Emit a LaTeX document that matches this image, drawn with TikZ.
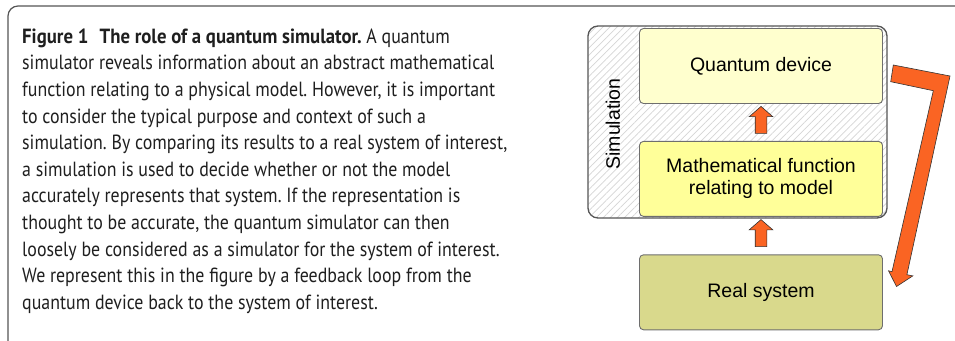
\documentclass[tikz,border=0pt]{standalone}
\usepackage{fontspec}
\setmainfont[FakeStretch=0.872, BoldFeatures={FakeStretch=0.915}]{PT Sans}
\newfontfamily\diagfont{Liberation Sans}
\usetikzlibrary{positioning, calc, shapes.arrows, patterns.meta}
\definecolor{qsOrange}{RGB}{250,100,35}
\definecolor{qsPale}{RGB}{255,255,206}
\definecolor{qsYellow}{RGB}{255,255,153}
\definecolor{qsOlive}{RGB}{217,217,140}
\definecolor{qsEdge}{RGB}{110,110,110}
\definecolor{qsFrame}{RGB}{85,85,85}
\frenchspacing

\begin{document}
\begin{tikzpicture}[
    x=1pt, y=-1pt,
    box/.style={draw=qsEdge, line width=0.9pt, rounded corners=4pt,
                minimum width=243pt, minimum height=75pt, inner sep=0pt,
                align=center, font=\diagfont\fontsize{19.5}{22}\selectfont},
    uparrow/.style={single arrow, draw=black!80, line width=0.6pt,
                    fill=qsOrange, rotate=90, minimum height=27pt,
                    inner xsep=0pt, inner ysep=5.5pt,
                    single arrow head extend=6pt, single arrow tip angle=98}
]
\useasboundingbox (0,0) rectangle (955,340);
\clip (0,0) rectangle (955,340);

% caption frame
\draw[qsFrame, line width=1.2pt, rounded corners=10pt] (970,6) -- (8,6) -- (8,370);

% caption
\node[anchor=north west, inner sep=0pt, align=left, text=black!88,
      font=\fontsize{20.5}{26.6}\selectfont] (caption) at (22,28.5) {%
  \textbf{Figure 1\hspace{0.55em}The role of a quantum simulator.} A quantum\\
  simulator reveals information about an abstract mathematical\\
  function relating to a physical model. However, it is important\\
  to consider the typical purpose and context of such a\\
  simulation. By comparing its results to a real system of interest,\\
  a simulation is used to decide whether or not the model\\
  accurately represents that system. If the representation is\\
  thought to be accurate, the quantum simulator can then\\
  loosely be considered as a simulator for the system of interest.\\
  We represent this in the figure by a feedback loop from the\\
  quantum device back to the system of interest.};

% simulation block
\draw[qsFrame, line width=1.3pt, rounded corners=10pt, preaction={fill=white},
      pattern={Lines[angle=45, distance=5pt, line width=0.7pt]},
      pattern color=black!16]
  (588,26) rectangle (887,218);
\node[rotate=90, font=\diagfont\fontsize{19.5}{22}\selectfont] (simlabel)
  at (613,124) {Simulation};

% boxes
\node[box, fill=qsPale] (qd) at (761,66) {Quantum device};
\node[box, fill=qsYellow, below=37pt of qd] (mf) {Mathematical function\\relating to model};
\node[box, fill=qsOlive, below=37.5pt of mf] (rs) {Real system};

% arrows
\node[uparrow] (up1) at ($(mf.north)!0.5!(qd.south)$) {};
\node[uparrow] (up2) at ($(rs.north)!0.5!(mf.south)$) {};

% feedback loop
\draw[black!80, line width=0.6pt, fill=qsOrange, line join=miter]
  (893.3,65) -- (950,76) -- (906.9,274.7) -- (912.8,275.9) -- (896.5,286.5)
  -- (888.5,270.8) -- (892,271.6) -- (933.3,90.7) -- (890.7,81.7) -- cycle;
\end{tikzpicture}
\end{document}
